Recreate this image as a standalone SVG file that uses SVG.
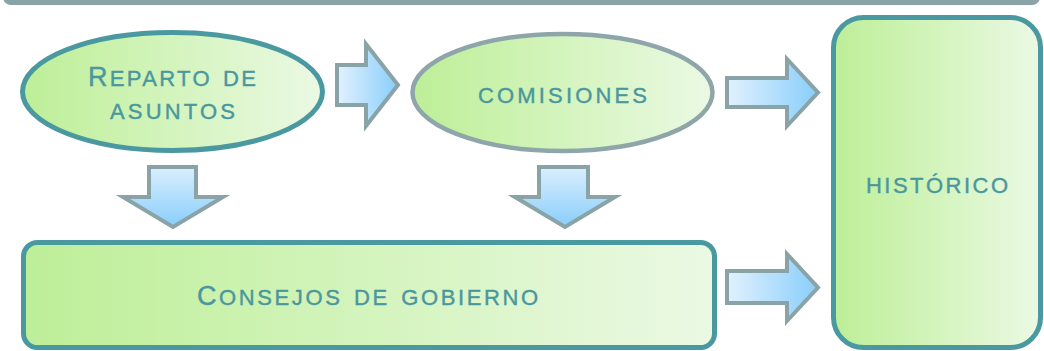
<svg xmlns="http://www.w3.org/2000/svg" width="1044" height="351" viewBox="0 0 1044 351">
<defs>
<linearGradient id="gGreen" x1="0" y1="0" x2="1" y2="0">
<stop offset="0" stop-color="#bdee98"/>
<stop offset="0.2" stop-color="#c6f1a6"/>
<stop offset="1" stop-color="#ebf9e4"/>
</linearGradient>
<linearGradient id="gArrowH" x1="0" y1="0" x2="1" y2="0">
<stop offset="0" stop-color="#e2f1fe"/>
<stop offset="1" stop-color="#88cefb"/>
</linearGradient>
<linearGradient id="gArrowV" x1="0" y1="0" x2="0" y2="1">
<stop offset="0" stop-color="#dbeefe"/>
<stop offset="1" stop-color="#88cefb"/>
</linearGradient>
<style>
.teal{fill:url(#gGreen);stroke:#4a99a0;stroke-width:5}
.gray{fill:url(#gGreen);stroke:#8ea6a9;stroke-width:4.5}
.ah{fill:url(#gArrowH);stroke:#8aa3a6;stroke-width:4;stroke-linejoin:miter}
.av{fill:url(#gArrowV);stroke:#8aa3a6;stroke-width:4;stroke-linejoin:miter}
.lbl{font-family:"Liberation Sans",Arial,sans-serif;font-size:32px;font-variant:small-caps;fill:#4a979e;stroke:#4a979e;stroke-width:0.4}
.cap{font-size:27px}
</style>
</defs>
<rect x="3" y="-20" width="1037" height="25" rx="8" fill="#8aa3a6"/>
<g id="connectors">
<polygon class="ah" points="337,65 366,65 366,44 398,85 366,126 366,105 337,105"/>
<polygon class="ah" points="727,78 787,78 787,59 818,92.5 787,126 787,107 727,107"/>
<polygon class="ah" points="727,271 787,271 787,254 818,287.5 787,321 787,303 727,303"/>
<polygon class="av" points="149,167 196,167 196,197 223,197 173,227 123,197 149,197"/>
<polygon class="av" points="539,167 588,167 588,197 615,197 565,227 515,197 539,197"/>
</g>
<g id="reparto">
<ellipse class="teal" cx="172.5" cy="91.5" rx="150" ry="59"/>
<text class="lbl" x="88" y="86" textLength="168" lengthAdjust="spacing"><tspan class="cap">R</tspan>eparto de</text>
<text class="lbl" x="110" y="119" textLength="125" lengthAdjust="spacing">asuntos</text>
</g>
<g id="comisiones">
<ellipse class="gray" cx="562.5" cy="92.5" rx="150" ry="58.5"/>
<text class="lbl" x="478" y="103" textLength="169" lengthAdjust="spacing">comisiones</text>
</g>
<g id="historico">
<rect class="teal" x="833.5" y="17.5" width="207" height="330" rx="30"/>
<text class="lbl" x="866" y="193" textLength="142" lengthAdjust="spacing">histórico</text>
</g>
<g id="consejos">
<rect class="teal" x="23.5" y="242.5" width="691" height="105" rx="14"/>
<text class="lbl" x="197" y="305" textLength="341" lengthAdjust="spacing"><tspan class="cap">C</tspan>onsejos de gobierno</text>
</g>
</svg>
